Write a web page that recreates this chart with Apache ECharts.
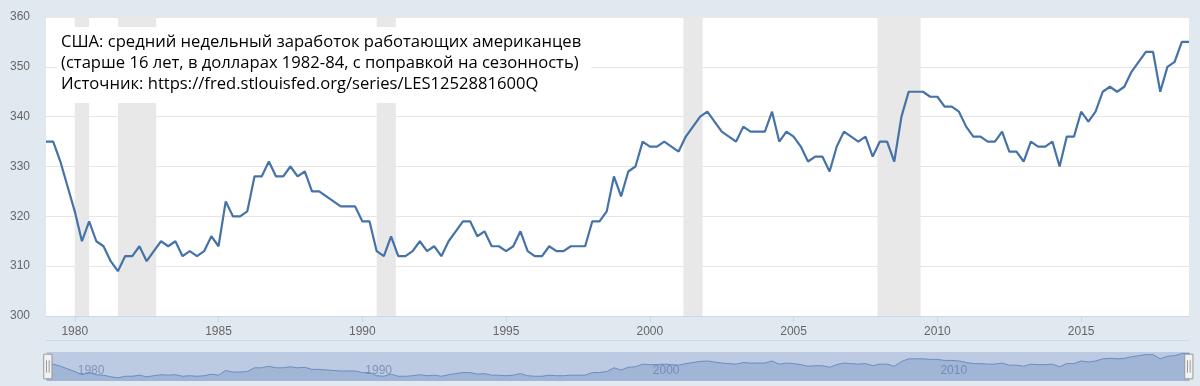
<!DOCTYPE html>
<html><head><meta charset="utf-8">
<script src="https://cdn.jsdelivr.net/npm/echarts@6/dist/echarts.min.js"></script>
<style>html,body{margin:0;padding:0;background:#e1e9f0}#c{width:1200px;height:386px}</style>
</head><body><div id="c"></div>
<script>
// Quarterly values, 1979 Q1 .. 2018 Q4
const firstYear = 1979;
const earnings = [
  335,335,331,326, 321,315,319,315, 314,311,309,312, 312,314,311,313,
  315,314,315,312, 313,312,313,316, 314,323,320,320, 321,328,328,331,
  328,328,330,328, 329,325,325,324, 323,322,322,322, 319,319,313,312,
  316,312,312,313, 315,313,314,312, 315,317,319,319, 316,317,314,314,
  313,314,317,313, 312,312,314,313, 313,314,314,314, 319,319,321,328,
  324,329,330,335, 334,334,335,334, 333,336,338,340, 341,339,337,336,
  335,338,337,337, 337,341,335,337, 336,334,331,332, 332,329,334,337,
  336,335,336,332, 335,335,331,340, 345,345,345,344, 344,342,342,341,
  338,336,336,335, 335,337,333,333, 331,335,334,334, 335,330,336,336,
  341,339,341,345, 346,345,346,349, 351,353,353,345, 350,351,355,355
];
const xTickYears = [1980,1985,1990,1995,2000,2005,2010,2015];
const navTickYears = [1980,1990,2000,2010];
const yTicks = {min:300, max:360, step:10};
// recessions: [start 'YYYY-MM', end 'YYYY-MM']
const recessions = [
  ['1980-01','1980-07'],
  ['1981-07','1982-11'],
  ['1990-07','1991-03'],
  ['2001-03','2001-11'],
  ['2007-12','2009-06']
];
const titleLines = [
  'США: средний недельный заработок работающих американцев',
  '(старше 16 лет, в долларах 1982-84, с поправкой на сезонность)',
  'Источник: https://fred.stlouisfed.org/series/LES1252881600Q'
];

const toYear = s => { const [y,m] = s.split('-').map(Number); return y + (m-1)/12; };
const points = earnings.map((v,i) => [firstYear + i/4, v]);
const xMin = firstYear, xMax = firstYear + (earnings.length-1)/4;

const chart = echarts.init(document.getElementById('c'), null, {renderer:'canvas'});
chart.setOption({
  animation:false,
  backgroundColor:'#e1e9f0',
  textStyle:{fontFamily:'"Liberation Sans", Arial, sans-serif'},
  grid:[
    {left:46, right:11, top:17, height:299, show:true, backgroundColor:'#ffffff', borderWidth:0},
    {left:46, right:11, top:352, height:29, show:false}
  ],
  xAxis:[
    {type:'value', gridIndex:0, min:xMin, max:xMax,
      axisLine:{show:true, lineStyle:{color:'#ccd6eb'}},
      axisTick:{show:true, customValues:xTickYears, length:6, lineStyle:{color:'#ccd6eb'}},
      axisLabel:{customValues:xTickYears, formatter:v=>String(v), color:'#666666', fontSize:12, margin:10},
      splitLine:{show:false}},
    {type:'value', gridIndex:1, min:xMin, max:xMax,
      axisLine:{show:false}, axisTick:{show:false},
      axisLabel:{customValues:navTickYears, formatter:v=>String(v), inside:true, align:'left', padding:[0,0,0,3], color:'#8c9bb3', fontSize:12, margin:4},
      splitLine:{show:false}}
  ],
  yAxis:[
    {type:'value', gridIndex:0, min:yTicks.min, max:yTicks.max, interval:yTicks.step,
      axisLine:{show:false}, axisTick:{show:false},
      axisLabel:{color:'#666666', fontSize:12, margin:16},
      splitLine:{lineStyle:{color:'#e6e6e6'}}},
    {type:'value', gridIndex:1, min:303, max:358, show:false}
  ],
  dataZoom:[{
    type:'slider', xAxisIndex:0, left:46, right:11, top:352, height:29,
    start:0, end:100, showDataShadow:false, showDetail:false, brushSelect:false,
    moveHandleSize:0, borderColor:'transparent', backgroundColor:'transparent',
    fillerColor:'rgba(102,133,194,0.3)',
    handleIcon:'path://M-4,-12 L4,-12 L4,12 L-4,12 Z M-1.3,-6 L-1.3,6 M1.3,-6 L1.3,6',
    handleSize:'85%',
    handleStyle:{color:'#f2f2f2', borderColor:'#999999', borderWidth:1},
    emphasis:{handleStyle:{color:'#f2f2f2', borderColor:'#999999'}}
  }],
  graphic:[
    {type:'rect', silent:true, shape:{x:46, y:340, width:1143, height:1}, style:{fill:'#ccd6eb'}},
    {type:'text', left:57, top:27, z:100, silent:true,
      style:{text:titleLines.join('\n'), fontSize:16.6, fontFamily:'"Open Sans", sans-serif', fill:'#000000',
        lineHeight:21, backgroundColor:'#ffffff', padding:[5,10,8,4]}}
  ],
  series:[
    {type:'line', xAxisIndex:0, yAxisIndex:0, z:1, silent:true, data:points, showSymbol:false,
      lineStyle:{opacity:0}, itemStyle:{opacity:0},
      markArea:{silent:true, itemStyle:{color:'#e8e8e8'},
        data:recessions.map(r=>[{xAxis:toYear(r[0])},{xAxis:toYear(r[1])}])}},
    {type:'line', xAxisIndex:0, yAxisIndex:0, z:3, data:points, showSymbol:false, symbol:'none',
      lineStyle:{color:'#4572a7', width:2.2}, itemStyle:{color:'#4572a7'}},
    {type:'line', xAxisIndex:1, yAxisIndex:1, z:2, silent:true, data:points, showSymbol:false, symbol:'none',
      lineStyle:{color:'#6f8fc2', width:1}, areaStyle:{color:'rgba(69,114,167,0.35)', origin:'start'}}
  ]
});
</script></body></html>
